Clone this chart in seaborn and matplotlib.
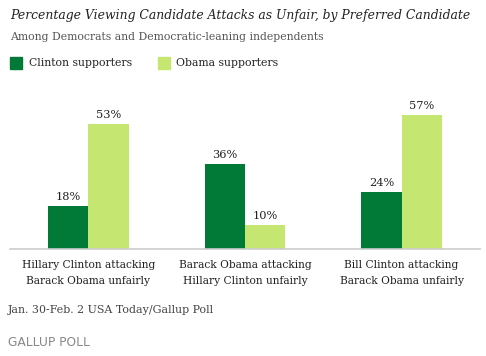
import pandas as pd
import matplotlib.pyplot as plt
import seaborn as sns
from matplotlib.patches import Rectangle

# data
attacks = [
    "Hillary Clinton attacking\nBarack Obama unfairly",
    "Barack Obama attacking\nHillary Clinton unfairly",
    "Bill Clinton attacking\nBarack Obama unfairly",
]
groups = ["Clinton supporters", "Obama supporters"]
clinton_pct = [18, 36, 24]
obama_pct = [53, 10, 57]
colors = ["#007A36", "#C6E672"]

df = pd.DataFrame({
    "attack": attacks * 2,
    "group": [groups[0]] * 3 + [groups[1]] * 3,
    "pct": clinton_pct + obama_pct,
})

sns.set_style("white")
plt.rcParams["font.family"] = ["DejaVu Serif"]

fig = plt.figure(figsize=(4.86, 3.56), dpi=100)
ax = fig.add_axes([10 / 486, 107.5 / 356, 470 / 486, 140.4 / 356])

sns.barplot(data=df, x="attack", y="pct", hue="group", palette=colors,
            saturation=1, width=0.513, ax=ax, legend=False, edgecolor="none")

for cont in ax.containers:
    ax.bar_label(cont, labels=[f"{int(v)}%" for v in cont.datavalues],
                 padding=3, fontsize=8.2, color="#222222")

ax.set_xlim(-0.5, 2.5)
ax.set_ylim(0, 60)
ax.set_xlabel("")
ax.set_ylabel("")
ax.set_yticks([])
ax.tick_params(axis="x", length=0, pad=8.5, labelsize=7.7, labelcolor="#222222")
for t in ax.get_xticklabels():
    t.set_linespacing(1.75)
for s in ["top", "right", "left"]:
    ax.spines[s].set_visible(False)
ax.spines["bottom"].set_color("#cccccc")
ax.spines["bottom"].set_linewidth(1.2)

# titles
fig.text(10 / 486, 1 - 15 / 356, "Percentage Viewing Candidate Attacks as Unfair, by Preferred Candidate",
         fontsize=8.9, style="italic", va="center", ha="left", color="#222222")
fig.text(10 / 486, 1 - 37 / 356, "Among Democrats and Democratic-leaning independents",
         fontsize=7.8, va="center", ha="left", color="#555555")

# legend
for x0, xt, lab, c in [(10, 29, groups[0], colors[0]), (158, 176, groups[1], colors[1])]:
    fig.patches.append(Rectangle((x0 / 486, 1 - 69 / 356), 12 / 486, 12 / 356,
                                 transform=fig.transFigure, color=c))
    fig.text(xt / 486, 1 - 63 / 356, lab, fontsize=7.8, va="center", ha="left", color="#222222")

# footer
fig.text(8 / 486, 1 - 310 / 356, "Jan. 30-Feb. 2 USA Today/Gallup Poll",
         fontsize=7.9, va="center", ha="left", color="#444444")
fig.text(8 / 486, 1 - 343 / 356, "GALLUP POLL", fontsize=8.8, va="center", ha="left",
         color="#888888", family=["DejaVu Sans"])

fig.savefig("out.png", dpi=100)
